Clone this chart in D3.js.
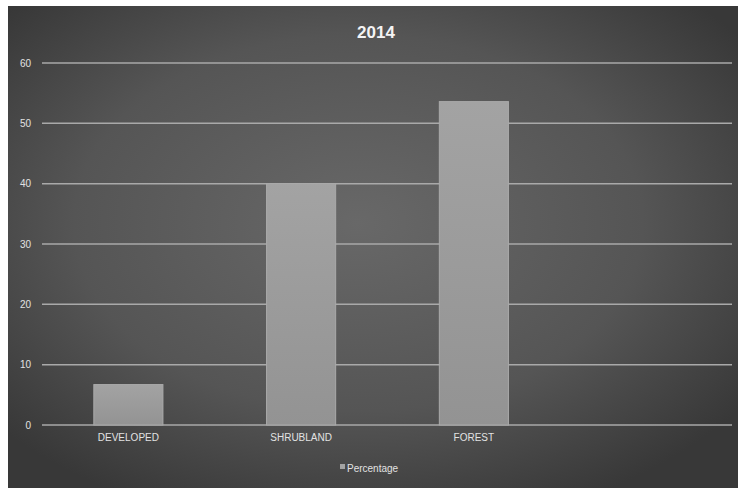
<!DOCTYPE html>
<html>
<head>
<meta charset="utf-8">
<script src="https://cdn.jsdelivr.net/npm/d3@7"></script>
<style>
  html, body { margin: 0; padding: 0; background: #ffffff; }
  svg { display: block; }
</style>
</head>
<body>
<div id="chart"></div>
<script>
// Land cover shares for 2014
const categories = ["DEVELOPED", "SHRUBLAND", "FOREST", ""];
const percentage = [6.7, 40, 53.6, null];
const yTicks = [0, 10, 20, 30, 40, 50, 60];
const title = "2014";
const seriesName = "Percentage";

const W = 738, H = 490;
const panel = { x: 8, y: 6, w: 730, h: 482 };
const margin = { left: 42, right: 5, top: 63, bottom: 65 };

const svg = d3.select("#chart").append("svg")
  .attr("width", W).attr("height", H);

const defs = svg.append("defs");
const bg = defs.append("radialGradient").attr("id", "bg")
  .attr("cx", "48%").attr("cy", "45%").attr("r", "65%");
bg.append("stop").attr("offset", "0%").attr("stop-color", "#686868");
bg.append("stop").attr("offset", "60%").attr("stop-color", "#555555");
bg.append("stop").attr("offset", "100%").attr("stop-color", "#383838");

const barGrad = defs.append("linearGradient").attr("id", "bar")
  .attr("x1", "0").attr("y1", "0").attr("x2", "0").attr("y2", "1");
barGrad.append("stop").attr("offset", "0%").attr("stop-color", "#a3a3a3");
barGrad.append("stop").attr("offset", "100%").attr("stop-color", "#939393");

svg.append("rect")
  .attr("x", panel.x).attr("y", panel.y)
  .attr("width", panel.w).attr("height", panel.h)
  .attr("fill", "url(#bg)");

const x = d3.scaleBand()
  .domain(categories.map((c, i) => i))
  .range([margin.left, W - margin.right])
  .paddingInner(0.6).paddingOuter(0.3);

const y = d3.scaleLinear()
  .domain([0, 60])
  .range([H - margin.bottom, margin.top]);

// Horizontal gridlines
svg.append("g").selectAll("line")
  .data(yTicks)
  .join("line")
  .attr("x1", margin.left).attr("x2", W - margin.right - 1)
  .attr("y1", d => y(d)).attr("y2", d => y(d))
  .attr("stroke", "#a9a9a9").attr("stroke-width", 1.5);

// Y axis labels
const yAxis = d3.axisLeft(y).tickValues(yTicks).tickSize(0).tickPadding(0);
const gy = svg.append("g")
  .attr("transform", `translate(${margin.left - 11},0)`)
  .call(yAxis);
gy.select(".domain").remove();
gy.selectAll("text")
  .attr("fill", "#e2e2e2")
  .attr("font-family", "Liberation Sans, Arial, sans-serif")
  .attr("font-size", 10);

// Bars
svg.append("g").selectAll("rect")
  .data(percentage.map((v, i) => ({ v, i })).filter(d => d.v != null))
  .join("rect")
  .attr("x", d => x(d.i))
  .attr("width", x.bandwidth())
  .attr("y", d => y(d.v))
  .attr("height", d => y(0) - y(d.v))
  .attr("fill", "url(#bar)")
  .attr("stroke", "#aaaaaa").attr("stroke-width", 1);

// Category labels
const xAxis = d3.axisBottom(x).tickSize(0).tickPadding(0)
  .tickFormat(i => categories[i]);
const gx = svg.append("g")
  .attr("transform", `translate(0,${y(0) + 9})`)
  .call(xAxis);
gx.select(".domain").remove();
gx.selectAll("text")
  .attr("fill", "#e2e2e2")
  .attr("font-family", "Liberation Sans Narrow, Liberation Sans, Arial, sans-serif")
  .attr("font-size", 10);

// Title
svg.append("text")
  .attr("x", 376).attr("y", 38)
  .attr("text-anchor", "middle")
  .attr("fill", "#f4f4f4")
  .attr("font-family", "Liberation Sans, Arial, sans-serif")
  .attr("font-weight", "bold")
  .attr("font-size", 17)
  .text(title);

// Legend
const legend = svg.append("g").attr("transform", "translate(340,468)");
legend.append("rect")
  .attr("x", 0).attr("y", -4).attr("width", 5).attr("height", 5)
  .attr("fill", "#a3a3a3");
legend.append("text")
  .attr("x", 7).attr("y", 0).attr("dy", "0.35em")
  .attr("fill", "#e2e2e2")
  .attr("font-family", "Liberation Sans Narrow, Liberation Sans, Arial, sans-serif")
  .attr("font-size", 10)
  .text(seriesName);
</script>
</body>
</html>
